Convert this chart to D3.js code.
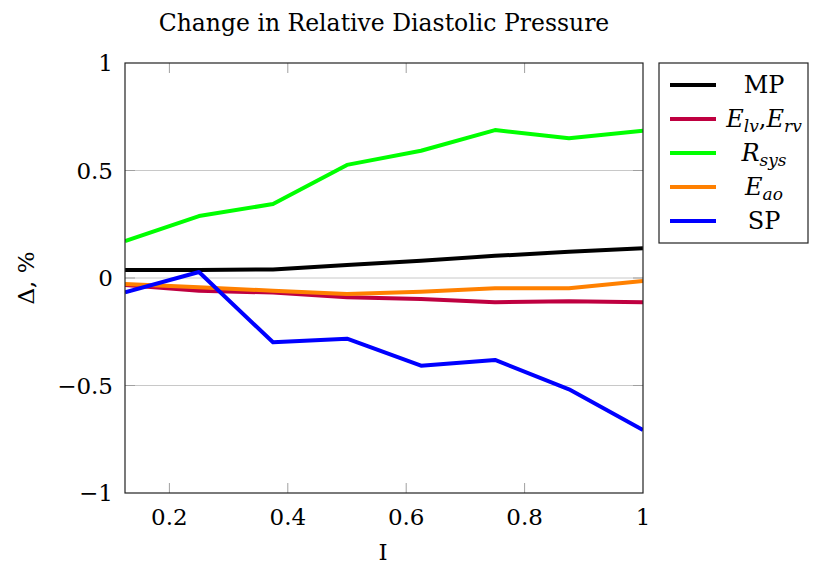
<!DOCTYPE html>
<html>
<head>
<meta charset="utf-8">
<script src="https://cdn.jsdelivr.net/npm/d3@7"></script>
<style>
  body { margin: 0; background: #fff; }
  svg { display: block; }
  text { font-family: "DejaVu Serif", "Liberation Serif", serif; fill: #000; }
</style>
</head>
<body>
<svg id="chart" width="813" height="567"></svg>
<script>
// ---- data ----
const xValues = [0.125, 0.25, 0.375, 0.5, 0.625, 0.75, 0.875, 1];
const mpValues   = [0.037, 0.037, 0.040, 0.060, 0.080, 0.103, 0.122, 0.138];
const elvValues  = [-0.033, -0.059, -0.068, -0.090, -0.098, -0.113, -0.108, -0.113];
const rsysValues = [0.172, 0.288, 0.344, 0.526, 0.592, 0.688, 0.650, 0.685];
const eaoValues  = [-0.028, -0.043, -0.059, -0.074, -0.064, -0.048, -0.048, -0.014];
const spValues   = [-0.067, 0.028, -0.299, -0.282, -0.408, -0.381, -0.518, -0.707];
const xTicks = [0.2, 0.4, 0.6, 0.8, 1];
const yTicks = [-1, -0.5, 0, 0.5, 1];
const seriesNames = ["MP", "Elv", "Rsys", "Eao", "SP"];
const seriesColors = ["#000000", "#bf0040", "#00ff00", "#ff8000", "#0000ff"];
const seriesData = [mpValues, elvValues, rsysValues, eaoValues, spValues];

(function () {
const svg = d3.select("#chart");
const pLeft = 125, pRight = 643, pTop = 63, pBottom = 493;
const x = d3.scaleLinear().domain([0.125, 1]).range([pLeft, pRight]);
const y = d3.scaleLinear().domain([-1, 1]).range([pBottom, pTop]);

// grid lines
svg.append("g").selectAll("line").data(yTicks.filter(d => d > -1 && d < 1)).join("line")
  .attr("x1", pLeft).attr("x2", pRight)
  .attr("y1", d => y(d)).attr("y2", d => y(d))
  .attr("stroke", "#c8c8c8").attr("stroke-width", 1);

// tick marks (inside, both sides)
const tl = 10;
const tickG = svg.append("g").attr("stroke", "#a0a0a0").attr("stroke-width", 1);
xTicks.filter(d => d < 1).forEach(d => {
  tickG.append("line").attr("x1", x(d)).attr("x2", x(d)).attr("y1", pBottom).attr("y2", pBottom - tl);
  tickG.append("line").attr("x1", x(d)).attr("x2", x(d)).attr("y1", pTop).attr("y2", pTop + tl);
});
yTicks.filter(d => d > -1 && d < 1).forEach(d => {
  tickG.append("line").attr("x1", pLeft).attr("x2", pLeft + tl).attr("y1", y(d)).attr("y2", y(d));
  tickG.append("line").attr("x1", pRight).attr("x2", pRight - tl).attr("y1", y(d)).attr("y2", y(d));
});

// series lines
const line = d3.line().x((d, i) => x(xValues[i])).y(d => y(d));
svg.append("defs").append("clipPath").attr("id", "clip")
  .append("rect").attr("x", pLeft).attr("y", pTop).attr("width", pRight - pLeft).attr("height", pBottom - pTop);
const linesG = svg.append("g").attr("clip-path", "url(#clip)");
seriesData.forEach((vals, k) => {
  linesG.append("path").datum(vals)
    .attr("d", line)
    .attr("fill", "none")
    .attr("stroke", seriesColors[k])
    .attr("stroke-width", 4)
    .attr("stroke-linejoin", "round");
});

// axes frame
svg.append("rect").attr("x", pLeft).attr("y", pTop).attr("width", pRight - pLeft).attr("height", pBottom - pTop)
  .attr("fill", "none").attr("stroke", "#222").attr("stroke-width", 1.2);

// tick labels
const fmt = d => (d < 0 ? "\u2212" : "") + String(Math.abs(d));
svg.append("g").selectAll("text").data(xTicks).join("text")
  .attr("x", d => x(d)).attr("y", 525)
  .attr("text-anchor", "middle").attr("font-size", 23)
  .text(fmt);
svg.append("g").selectAll("text").data(yTicks).join("text")
  .attr("x", 113).attr("y", d => y(d) + 8)
  .attr("text-anchor", "end").attr("font-size", 23)
  .text(fmt);

// axis labels
svg.append("text").attr("x", x(0.5625) - 1).attr("y", 560)
  .attr("text-anchor", "middle").attr("font-size", 23).text("I");
svg.append("text").attr("transform", "translate(34,278) rotate(-90)")
  .attr("text-anchor", "middle").attr("font-size", 23).text("\u0394, %");

// title
svg.append("text").attr("x", 384).attr("y", 31)
  .attr("text-anchor", "middle").attr("font-size", 23.5).text("Change in Relative Diastolic Pressure");

// legend
const lg = svg.append("g");
lg.append("rect").attr("x", 659).attr("y", 63).attr("width", 149).attr("height", 180)
  .attr("fill", "#fff").attr("stroke", "#222").attr("stroke-width", 1.2);
const rowY = [85, 119, 153, 187, 221];
seriesNames.forEach((name, k) => {
  lg.append("line").attr("x1", 670).attr("x2", 716).attr("y1", rowY[k]).attr("y2", rowY[k])
    .attr("stroke", seriesColors[k]).attr("stroke-width", 4);
  const t = lg.append("text").attr("x", 764).attr("y", rowY[k] + 8)
    .attr("text-anchor", "middle").attr("font-size", 24);
  if (name === "MP" || name === "SP") {
    t.text(name);
  } else if (name === "Elv") {
    t.append("tspan").attr("font-style", "italic").text("E");
    t.append("tspan").attr("font-style", "italic").attr("font-size", 17).attr("dy", 5).text("lv");
    t.append("tspan").attr("dy", -5).text(",");
    t.append("tspan").attr("font-style", "italic").text("E");
    t.append("tspan").attr("font-style", "italic").attr("font-size", 17).attr("dy", 5).text("rv");
  } else if (name === "Rsys") {
    t.append("tspan").attr("font-style", "italic").text("R");
    t.append("tspan").attr("font-style", "italic").attr("font-size", 17).attr("dy", 5).text("sys");
  } else if (name === "Eao") {
    t.append("tspan").attr("font-style", "italic").text("E");
    t.append("tspan").attr("font-style", "italic").attr("font-size", 17).attr("dy", 5).text("ao");
  }
});
})();
</script>
</body>
</html>
